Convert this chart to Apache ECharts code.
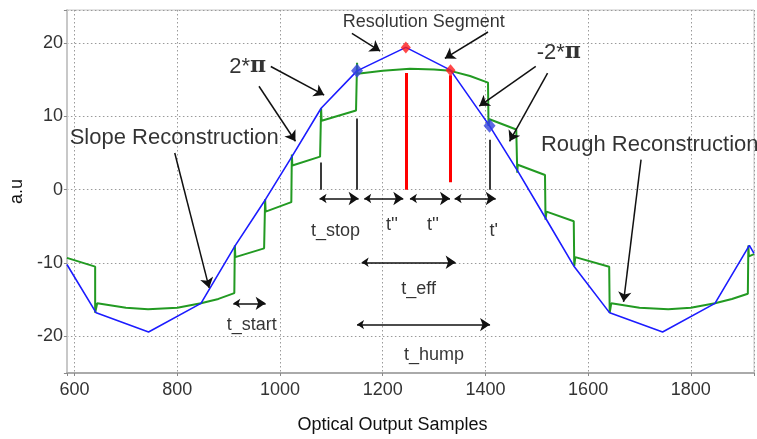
<!DOCTYPE html>
<html><head><meta charset="utf-8">
<script src="https://cdn.jsdelivr.net/npm/echarts@6/dist/echarts.min.js"></script>
<style>html,body{margin:0;padding:0;background:#fff}#c{width:757px;height:439px}</style>
</head><body><div id="c"></div>
<script>
// ---- data ----
const blueX = [585, 642, 744, 846, 913, 972, 1024, 1080, 1150, 1245, 1332, 1408, 1465, 1519, 1572, 1642, 1745, 1847, 1914, 1923];
const blueY = [-10.2, -16.8, -19.4, -15.5, -7.6, -1.3, 4.6, 11.1, 16.2, 19.4, 16.3, 8.7, 2.3, -4.1, -10.4, -16.8, -19.4, -15.5, -7.6, -8.7];

const greenX = [585, 640, 640, 644, 700, 743, 800, 846, 880, 911, 912, 913, 969, 971, 972, 1022, 1023, 1024, 1078, 1080, 1081, 1148, 1150, 1151, 1200, 1253, 1300, 1332, 1370, 1405, 1406, 1408, 1460, 1462, 1463, 1516, 1517, 1519, 1572, 1573, 1575, 1641, 1642, 1645, 1700, 1756, 1800, 1847, 1880, 1911, 1912, 1913, 1923];
const greenY = [-9.3, -10.5, -16.8, -15.5, -16.1, -16.3, -16.1, -15.5, -14.9, -14.1, -7.6, -9.2, -8.0, -1.3, -3.0, -1.7, 4.8, 3.3, 4.5, 11.1, 9.4, 10.8, 17.3, 15.8, 16.2, 16.5, 16.4, 16.2, 15.5, 14.6, 8.7, 9.6, 8.2, 2.3, 3.4, 2.0, -4.1, -3.0, -4.3, -10.4, -9.2, -10.5, -16.8, -15.5, -16.1, -16.3, -16.1, -15.5, -14.9, -14.2, -7.6, -9.1, -8.8];

const blueMarkX = [1150, 1408];
const blueMarkY = [16.2, 8.7];
const redMarkX = [1245, 1332];
const redMarkY = [19.4, 16.3];

// vertical segments [x, yBottom, yTop]
const redBars = [[1245, 0, 15.9], [1332, 1.0, 15.6]];
const grayBars = [[1080, 0, 3.7], [1150, 0, 9.7], [1409, 0, 6.8]];

// annotation arrows (data coordinates)
const singleArrows = [
  [[1140, 21.3], [1195, 18.9]],
  [[1405, 21.5], [1321, 17.9]],
  [[982, 16.8], [1086, 12.9]],
  [[959, 14.1], [1030, 6.6]],
  [[1498, 16.8], [1388, 11.4]],
  [[1521, 15.9], [1447, 6.6]],
  [[795, 5.0], [862, -13.4]],
  [[1703, 4.1], [1669, -15.3]]
];
const doubleArrows = [
  [[1077, -1.2], [1153, -1.2]],
  [[1164, -1.2], [1240, -1.2]],
  [[1253, -1.2], [1331, -1.2]],
  [[1340, -1.2], [1420, -1.2]],
  [[909, -15.5], [972, -15.5]],
  [[1159, -9.9], [1342, -9.9]],
  [[1150, -18.4], [1409, -18.4]]
];

// annotation texts
const smallLabels = ['t_stop', "t''", "t''", "t'", 't_eff', 't_start', 't_hump', 'Resolution Segment'];
const smallLabelPos = [[1108, -5.7], [1218, -4.8], [1298, -4.8], [1416, -5.6], [1270, -13.5], [945, -18.4], [1300, -22.5], [1280, 22.9]];
const bigLabels = ['Slope Reconstruction'];
const bigLabelPos = [[794, 7.05]];
const leftLabels = ['Rough Reconstruction'];
const leftLabelPos = [[1508, 6.15]];
const piLabels = ['2*', '-2*'];
const piLabelPos = [[937, 16.8], [1543, 18.7]];

const xTickLabels = [600, 800, 1000, 1200, 1400, 1600, 1800];
const yTickLabels = [-20, -10, 0, 10, 20];

// ---- chart ----
const FONT = "'Liberation Sans', Arial, sans-serif";
const zip = (a, b) => a.map((v, i) => [v, b[i]]);
const chart = echarts.init(document.getElementById('c'), null, {renderer: 'canvas'});

const option = {
  animation: false,
  backgroundColor: '#fff',
  grid: {left: 65, top: 10, right: 1, bottom: 66, show: true, borderColor: '#c8c8c8', borderWidth: 1},
  xAxis: {
    type: 'value', min: 585, max: 1923, splitNumber: 7,
    name: 'Optical Output Samples', nameLocation: 'middle', nameGap: 43,
    nameTextStyle: {fontFamily: FONT, fontSize: 18, color: '#111', padding: [0, 36, 0, 0]},
    axisLine: {show: true, onZero: false, lineStyle: {color: '#aaa', width: 2}},
    axisTick: {show: true, inside: false, length: 3, lineStyle: {color: '#888'}},
    axisLabel: {fontFamily: FONT, fontSize: 18, color: '#333', margin: 8,
      formatter: v => xTickLabels.includes(v) ? String(v) : ''},
    splitLine: {show: true, lineStyle: {color: '#9a9a9a', type: [1.5, 2.5], width: 1}}
  },
  yAxis: {
    type: 'value', min: -25, max: 24.5, splitNumber: 5,
    name: 'a.u', nameLocation: 'middle', nameGap: 38,
    nameTextStyle: {fontFamily: FONT, fontSize: 18, color: '#111'},
    axisLine: {show: true, onZero: false, lineStyle: {color: '#c8c8c8', width: 2}},
    axisTick: {show: true, inside: false, length: 3, lineStyle: {color: '#888'}},
    axisLabel: {fontFamily: FONT, fontSize: 18, color: '#333', margin: 4,
      formatter: v => yTickLabels.includes(v) ? String(v) : ''},
    splitLine: {show: true, lineStyle: {color: '#9a9a9a', type: [1.5, 2.5], width: 1}}
  },
  series: [
    {
      type: 'lines', coordinateSystem: 'cartesian2d', z: 2, silent: true,
      lineStyle: {color: '#ff0000', width: 3, opacity: 1},
      data: redBars.map(b => ({coords: [[b[0], b[1]], [b[0], b[2]]]}))
    },
    {
      type: 'lines', coordinateSystem: 'cartesian2d', z: 2, silent: true,
      lineStyle: {color: '#3a3a3a', width: 2, opacity: 1},
      data: grayBars.map(b => ({coords: [[b[0], b[1]], [b[0], b[2]]]}))
    },
    {
      name: 'rough', type: 'line', z: 3, silent: true, showSymbol: false, symbol: 'none',
      lineStyle: {color: '#229a22', width: 2},
      data: zip(greenX, greenY)
    },
    {
      name: 'slope', type: 'line', z: 4, silent: true, showSymbol: false, symbol: 'none',
      lineStyle: {color: '#1c1cff', width: 1.6},
      data: zip(blueX, blueY)
    },
    {
      type: 'scatter', z: 5, silent: true, symbol: 'diamond', symbolSize: [12, 14],
      itemStyle: {color: '#3344dd'},
      data: zip(blueMarkX, blueMarkY)
    },
    {
      type: 'scatter', z: 5, silent: true, symbol: 'diamond', symbolSize: [10, 12],
      itemStyle: {color: '#ff1a1a'},
      data: zip(redMarkX, redMarkY)
    },
    {
      type: 'lines', coordinateSystem: 'cartesian2d', z: 6, silent: true,
      symbol: ['none', 'arrow'], symbolSize: [7, 10],
      lineStyle: {color: '#111', width: 1.5, opacity: 1},
      data: singleArrows.map(c => ({coords: c}))
    },
    {
      type: 'lines', coordinateSystem: 'cartesian2d', z: 6, silent: true,
      symbol: ['arrow', 'arrow'], symbolSize: [7, 10],
      lineStyle: {color: '#111', width: 1.5, opacity: 1},
      data: doubleArrows.map(c => ({coords: c}))
    },
    {
      type: 'scatter', z: 7, silent: true, symbolSize: 0,
      label: {show: true, position: 'inside', formatter: '{b}', fontFamily: FONT, fontSize: 18, color: '#000'},
      data: smallLabels.map((t, i) => ({name: t, value: smallLabelPos[i]}))
    },
    {
      type: 'scatter', z: 7, silent: true, symbolSize: 0,
      label: {show: true, position: 'inside', formatter: '{b}', fontFamily: FONT, fontSize: 22, color: '#000'},
      data: bigLabels.map((t, i) => ({name: t, value: bigLabelPos[i]}))
    },
    {
      type: 'scatter', z: 7, silent: true, symbolSize: 0,
      label: {show: true, position: 'right', distance: 0, formatter: '{b}', fontFamily: FONT, fontSize: 22, color: '#000'},
      data: leftLabels.map((t, i) => ({name: t, value: leftLabelPos[i]}))
    },
    {
      type: 'scatter', z: 7, silent: true, symbolSize: 0,
      label: {show: true, position: 'inside', formatter: '{a|{b}}{p|π}',
        rich: {
          a: {fontFamily: FONT, fontSize: 22, color: '#000'},
          p: {fontFamily: "'DejaVu Serif', serif", fontSize: 22, fontWeight: 'bold', color: '#000'}
        }},
      data: piLabels.map((t, i) => ({name: t, value: piLabelPos[i]}))
    }
  ]
};
chart.setOption(option);
</script>
</body></html>
